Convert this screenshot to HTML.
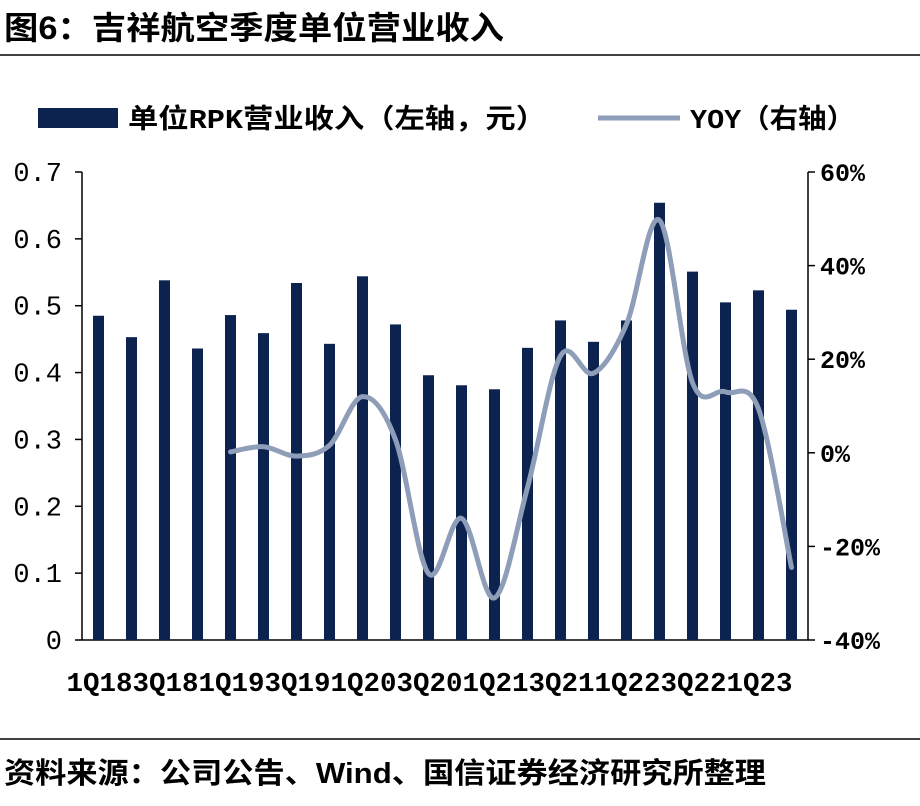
<!DOCTYPE html>
<html><head><meta charset="utf-8">
<style>
html,body{margin:0;padding:0;background:#fff;}
body{width:920px;height:801px;overflow:hidden;font-family:"Liberation Sans","Noto Sans CJK SC",sans-serif;}
</style></head>
<body>
<svg width="920" height="801" xmlns="http://www.w3.org/2000/svg">
<text x="4" y="39" font-size="32" font-weight="bold" textLength="500" lengthAdjust="spacingAndGlyphs" font-family="Liberation Sans, Noto Sans CJK SC, sans-serif" fill="#000">图6：吉祥航空季度单位营业收入</text>
<line x1="0" y1="55" x2="920" y2="55" stroke="#000" stroke-width="1.5"/>
<line x1="0" y1="739" x2="920" y2="739" stroke="#000" stroke-width="1.5"/>
<text x="4" y="783" font-size="29" font-weight="bold" textLength="762" lengthAdjust="spacingAndGlyphs" font-family="Liberation Sans, Noto Sans CJK SC, sans-serif" fill="#000">资料来源：公司公告、Wind、国信证券经济研究所整理</text>
<g>
<rect x="38" y="108" width="80" height="20" fill="#0c2350"/>
<text x="128" y="128" font-size="27" font-weight="bold" textLength="418" lengthAdjust="spacingAndGlyphs" font-family="Liberation Mono, Noto Sans CJK SC, monospace">单位RPK营业收入（左轴，元）</text>
<line x1="598" y1="118" x2="680" y2="118" stroke="#8e9db8" stroke-width="5"/>
<text x="690" y="128" font-size="27" font-weight="bold" textLength="165" lengthAdjust="spacingAndGlyphs" font-family="Liberation Mono, Noto Sans CJK SC, monospace">YOY（右轴）</text>
</g>
<g id="plot"></g>
</svg>
<script>
const categories=["1Q18","2Q18","3Q18","4Q18","1Q19","2Q19","3Q19","4Q19","1Q20","2Q20","3Q20","4Q20","1Q21","2Q21","3Q21","4Q21","1Q22","2Q22","3Q22","4Q22","1Q23","2Q23"];
const revenue=[0.485,0.453,0.538,0.436,0.486,0.459,0.534,0.443,0.544,0.472,0.396,0.381,0.375,0.437,0.478,0.446,0.478,0.654,0.551,0.505,0.523,0.494];
const yoy=[null,null,null,null,0.2,1.3,-0.7,1.6,12,2.8,-25.8,-14,-31,-7.4,20.7,17,27.5,49.7,15,13,9.4,-24.5];
const leftTicks=[0,0.1,0.2,0.3,0.4,0.5,0.6,0.7];
const leftTickLabels=["0","0.1","0.2","0.3","0.4","0.5","0.6","0.7"];
const rightTicks=[-40,-20,0,20,40,60];
const rightTickLabels=["-40%","-20%","0%","20%","40%","60%"];
const NS="http://www.w3.org/2000/svg";
const X0=82,X1=808,Y0=640,Y1=172;
const step=(X1-X0)/categories.length;
const xC=i=>X0+step*(i+0.5);
const yL=v=>Y0-(v-0)/(0.7-0)*(Y0-Y1);
const yR=v=>Y0-(v+40)/100*(Y0-Y1);
const g=document.getElementById('plot');
function mk(t,a){const e=document.createElementNS(NS,t);for(const k in a)e.setAttribute(k,a[k]);g.appendChild(e);return e;}
const font="Liberation Mono, monospace";
let e=mk('line',{x1:X0,y1:Y0,x2:X1,y2:Y0,stroke:'#000','stroke-width':1.5});


e=mk('line',{x1:X0,y1:Y1,x2:X0,y2:Y0,stroke:'#000','stroke-width':1.5});


e=mk('line',{x1:X1,y1:Y1,x2:X1,y2:Y0,stroke:'#000','stroke-width':1.5});


leftTicks.forEach((v,i)=>{
 const y=yL(v);
 let t=mk('line',{x1:X0-7,y1:y,x2:X0,y2:y,stroke:'#000','stroke-width':1.5});
 
 
 let l=mk('text',{x:62,y:y+9,'font-size':27,'text-anchor':'end','font-family':font});
 l.textContent=leftTickLabels[i];
 
 
});
rightTicks.forEach((v,i)=>{
 const y=yR(v);
 let t=mk('line',{x1:X1,y1:y,x2:X1+7,y2:y,stroke:'#000','stroke-width':1.5});
 
 
 let l=mk('text',{x:820,y:y+9,'font-size':25,'font-weight':'bold','font-family':font});
 l.textContent=rightTickLabels[i];
 
 
});
revenue.forEach((v,i)=>{
 const b=mk('rect',{x:xC(i)-5.5,y:yL(v),width:11,height:Y0-yL(v),fill:'#0c2350'});
 
 
});
categories.forEach((c,i)=>{
 if(i%2) return;
 const l=mk('text',{x:xC(i)-32,y:691,'font-size':27,'font-weight':'bold',textLength:66,lengthAdjust:'spacingAndGlyphs','font-family':font});
 l.textContent=c;
 
 
});
const pts=[];yoy.forEach((v,i)=>{if(v!==null)pts.push([xC(i),yR(v)]);});
let d='M'+pts[0][0]+','+pts[0][1];
for(let i=0;i<pts.length-1;i++){
 const p0=pts[i-1]||pts[i],p1=pts[i],p2=pts[i+1],p3=pts[i+2]||p2;
 const c1=[p1[0]+(p2[0]-p0[0])/6,p1[1]+(p2[1]-p0[1])/6];
 const c2=[p2[0]-(p3[0]-p1[0])/6,p2[1]-(p3[1]-p1[1])/6];
 d+=` C${c1[0]},${c1[1]} ${c2[0]},${c2[1]} ${p2[0]},${p2[1]}`;
}
const ln=mk('path',{d:d,fill:'none',stroke:'#8e9db8','stroke-width':5,'stroke-linejoin':'round','stroke-linecap':'round'});


</script>
</body></html>
